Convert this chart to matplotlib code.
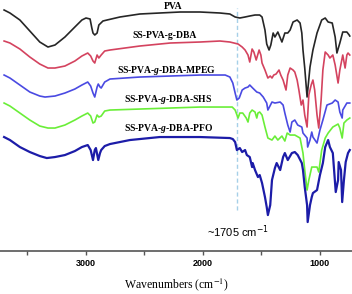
import matplotlib
matplotlib.use("Agg")
import matplotlib.pyplot as plt
from matplotlib.ticker import FixedLocator

plt.rcParams['mathtext.fontset'] = 'custom'
plt.rcParams['mathtext.rm'] = 'Liberation Serif:bold'
plt.rcParams['mathtext.it'] = 'Liberation Serif:italic:bold'

# FTIR spectra, offset transmittance (a.u.)
wn_pva = [3700, 3650, 3565, 3480, 3395, 3325, 3265, 3180, 3095, 3035, 3000, 2965, 2950, 2940, 2925,
          2905, 2890, 2855, 2820, 2710, 2540, 2370, 2195, 2025, 1855, 1770, 1725, 1685, 1640, 1600,
          1555, 1515, 1495, 1470, 1455, 1435, 1420, 1400, 1385, 1360, 1325, 1300, 1275, 1255, 1230,
          1195, 1170, 1155, 1145, 1130, 1110, 1085, 1060, 1025, 985, 955, 930, 895, 870, 855, 830,
          805, 770, 750, 745]
t_pva = [241, 238, 231, 220, 209, 204, 206, 214, 224, 231, 233, 232, 223, 218, 216,
         218, 226, 230, 231, 234, 237, 238, 239, 239, 238, 237, 234, 233, 234, 235,
         236, 236, 234, 221, 207, 201, 206, 218, 214, 219, 209, 218, 218, 221, 229,
         231, 228, 218, 201, 183, 154, 184, 201, 218, 231, 233, 229, 228, 214, 198, 208,
         219, 219, 216, 215]

wn_dba = [3700, 3650, 3565, 3480, 3395, 3325, 3265, 3180, 3095, 3035, 2985, 2960, 2940, 2925, 2905,
          2890, 2870, 2840, 2795, 2540, 2280, 2025, 1855, 1770, 1700, 1665, 1640, 1615, 1600, 1580,
          1565, 1545, 1520, 1505, 1495, 1470, 1445, 1425, 1410, 1395, 1375, 1350, 1335, 1315, 1290,
          1275, 1255, 1230, 1215, 1195, 1180, 1160, 1145, 1130, 1110, 1095, 1075, 1060, 1045, 1025,
          1010, 990, 975, 955, 930, 915, 890, 870, 845, 830, 805, 785, 770, 760, 745]
t_dba = [210, 208, 202, 194, 187, 183, 183, 185, 190, 195, 198, 195, 190, 188, 196,
         193, 196, 200, 201, 205, 208, 209, 210, 209, 207, 204, 201, 196, 189, 202,
         199, 191, 201, 196, 188, 181, 173, 175, 173, 176, 177, 181, 176, 171, 161,
         176, 183, 181, 179, 171, 161, 146, 151, 136, 124, 156, 166, 171, 161, 136,
         123, 151, 181, 199, 196, 193, 196, 186, 168, 181, 196, 183, 196, 198, 196]

wn_mpeg = [3700, 3650, 3565, 3480, 3395, 3350, 3265, 3180, 3095, 3035, 2985, 2960, 2940, 2925, 2905,
           2895, 2880, 2870, 2840, 2795, 2540, 2280, 2025, 1810, 1770, 1745, 1725, 1710, 1690, 1665,
           1640, 1615, 1600, 1575, 1540, 1515, 1485, 1455, 1445, 1410, 1385, 1340, 1315, 1300, 1275,
           1255, 1240, 1215, 1190, 1155, 1145, 1110, 1105, 1085, 1070, 1060, 1025, 1000, 975, 940,
           895, 870, 845, 830, 810, 805, 770, 745]
t_mpeg = [176, 173, 166, 159, 155, 154, 155, 158, 162, 166, 169, 165, 158, 154, 164,
          167, 164, 163, 169, 172, 174, 175, 176, 176, 174, 168, 158, 151, 153, 161,
          163, 164, 166, 163, 159, 158, 154, 148, 141, 149, 148, 149, 146, 138, 126,
          119, 129, 131, 126, 124, 118, 113, 104, 111, 119, 114, 108, 121, 131, 146,
          148, 151, 149, 139, 133, 141, 148, 148]

wn_shs = [3700, 3650, 3565, 3480, 3395, 3325, 3265, 3180, 3095, 3035, 2985, 2960, 2940, 2925, 2905,
          2890, 2870, 2840, 2795, 2540, 2280, 2025, 1810, 1750, 1725, 1700, 1685, 1660, 1630, 1615,
          1600, 1580, 1555, 1540, 1530, 1515, 1495, 1470, 1445, 1410, 1385, 1360, 1325, 1300, 1280,
          1255, 1215, 1170, 1145, 1130, 1110, 1095, 1070, 1025, 1010, 985, 955, 930, 890, 845,
          830, 810, 795, 770, 745]
t_shs = [148, 145, 138, 131, 125, 123, 123, 126, 131, 135, 138, 135, 128, 129, 136,
         134, 135, 140, 141, 142, 143, 144, 144, 144, 141, 133, 138, 138, 133, 129,
         138, 141, 139, 133, 138, 139, 136, 124, 113, 111, 115, 111, 115, 110, 118,
         116, 116, 113, 98, 81, 61, 71, 84, 84, 79, 101, 113, 118, 124, 127,
         123, 113, 128, 131, 133]

wn_pfo = [3700, 3650, 3565, 3480, 3395, 3335, 3265, 3180, 3095, 3035, 2985, 2960, 2940, 2925, 2915,
          2895, 2880, 2870, 2840, 2795, 2625, 2370, 2025, 1770, 1745, 1725, 1710, 1685, 1665, 1640,
          1625, 1600, 1580, 1575, 1555, 1530, 1515, 1495, 1470, 1455, 1445, 1425, 1410, 1385, 1370,
          1340, 1315, 1300, 1275, 1240, 1215, 1190, 1155, 1145, 1130, 1110, 1105, 1085, 1070, 1060,
          1025, 1000, 975, 955, 930, 915, 890, 865, 845, 840, 820, 810, 795, 780, 760, 745]
t_pfo = [114, 111, 104, 99, 95, 93, 94, 96, 100, 104, 106, 101, 91, 101, 103,
         91, 98, 101, 105, 107, 111, 114, 114, 113, 112, 109, 101, 103, 99, 101,
         96, 94, 84, 88, 81, 74, 76, 68, 54, 44, 36, 46, 71, 83, 88,
         81, 94, 98, 91, 98, 99, 96, 88, 81, 64, 46, 29, 46, 54, 58,
         61, 76, 88, 104, 111, 104, 98, 59, 71, 89, 81, 49, 71, 89, 98, 101]

spectra = [
    (wn_pva, t_pva, '#262626', 1.2, 'PVA', 2256, 245),
    (wn_dba, t_dba, '#d4435f', 1.2, 'SS-PVA-g-DBA', 2330, 216),
    (wn_mpeg, t_mpeg, '#4a4ae2', 1.2, 'SS-PVA-$g$-DBA-MPEG', 2310, 181),
    (wn_shs, t_shs, '#6aee38', 1.2, 'SS-PVA-$g$-DBA-SHS', 2295, 152),
    (wn_pfo, t_pfo, '#1c1ca8', 1.6, 'SS-PVA-$g$-DBA-PFO', 2295, 123),
]

fig = plt.figure(figsize=(3.52, 2.94), dpi=100)
ax = fig.add_axes([0, 0.146, 1, 0.854])

for wn, t, c, lw, name, lx, ly in spectra:
    ax.plot(wn, t, color=c, lw=lw)
    ax.text(lx, ly, name, ha='center', va='center', fontsize=6.9, fontweight='bold',
            family='Liberation Serif')

ax.axvline(1705, ymin=0.163, ymax=0.968, color='#a6d0e8', lw=1, ls=(0, (3, 2)), zorder=0)
ax.text(1700, 19, '~1705 cm$^{-1}$', ha='center', va='center', fontsize=8,
        family='Liberation Sans', math_fontfamily='dejavusans')

ax.set_xlim(3735, 726)
ax.set_ylim(0, 251)
ax.set_yticks([])
for s in ['top', 'right', 'left']:
    ax.spines[s].set_visible(False)
ax.spines['bottom'].set_color('#555555')
ax.spines['bottom'].set_linewidth(1.2)

ax.xaxis.set_major_locator(FixedLocator([3000, 2000, 1000]))
ax.xaxis.set_minor_locator(FixedLocator([3500, 2500, 1500]))
ax.tick_params(axis='x', which='both', direction='out', length=3, width=1, color='#555555', pad=3)
for lab in ax.get_xticklabels():
    lab.set_fontweight('bold')
    lab.set_fontsize(6.5)
    lab.set_family('Liberation Sans')

ax.set_xlabel('Wavenumbers (cm$^{-1}$)', fontsize=8.5, family='Liberation Serif',
              math_fontfamily='stix', labelpad=6)

fig.savefig('out.png', dpi=100)
